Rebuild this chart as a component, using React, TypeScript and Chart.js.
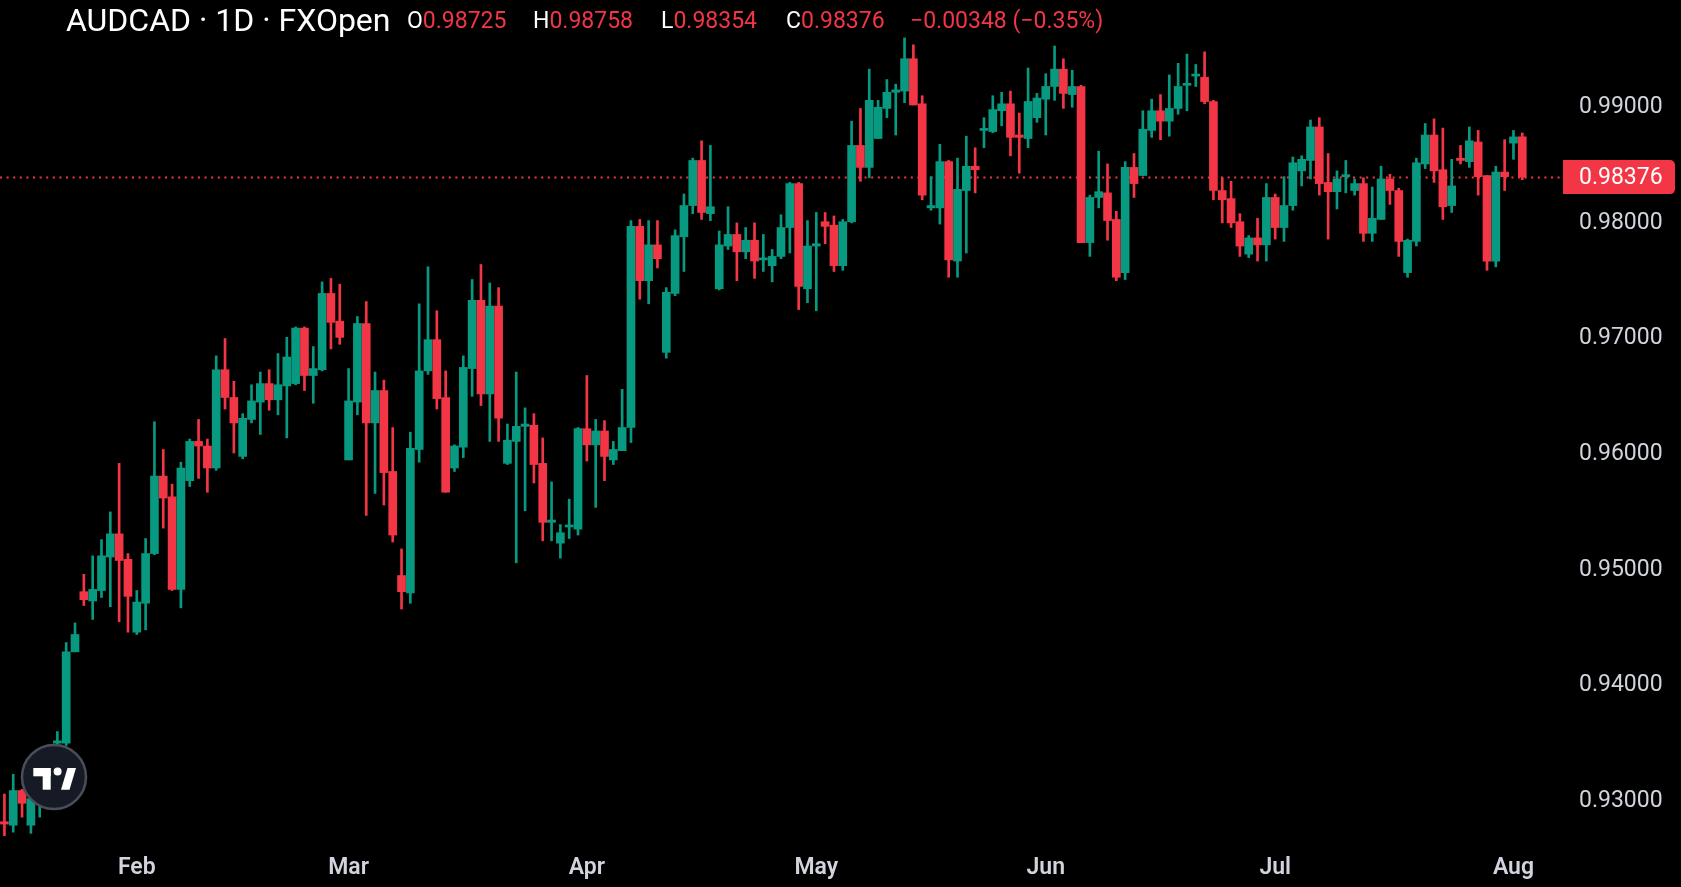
import React, { useEffect, useRef } from 'react';
import { Chart, registerables } from 'chart.js';

Chart.register(...registerables);

// ---- data ----
const opens = [
  0.9280, 0.9277, 0.9307, 0.9277, 0.9298, 0.9322, 0.9348, 0.9348, 0.9427, 0.9479,
  0.9471, 0.9480, 0.9509, 0.9529, 0.9507, 0.9444, 0.9469, 0.9512, 0.9579, 0.9561,
  0.9481, 0.9575, 0.9609, 0.9605, 0.9586, 0.9671, 0.9647, 0.9596, 0.9628, 0.9643,
  0.9659, 0.9645, 0.9657, 0.9659, 0.9707, 0.9666, 0.9671, 0.9737, 0.9713, 0.9593,
  0.9643, 0.9711, 0.9625, 0.9653, 0.9583, 0.9493, 0.9478, 0.9602, 0.9670, 0.9697,
  0.9647, 0.9586, 0.9604, 0.9672, 0.9731, 0.9650, 0.9726, 0.9590, 0.9609, 0.9622,
  0.9623, 0.9590, 0.9539, 0.9521, 0.9535, 0.9533, 0.9620, 0.9606, 0.9618, 0.9593,
  0.9601, 0.9621, 0.9795, 0.9748, 0.9779, 0.9686, 0.9737, 0.9786, 0.9813, 0.9852,
  0.9806, 0.9741, 0.9778, 0.9788, 0.9773, 0.9783, 0.9766, 0.9761, 0.9769, 0.9794,
  0.9832, 0.9741, 0.9778, 0.9799, 0.9796, 0.9761, 0.9799, 0.9865, 0.9846, 0.9871,
  0.9897, 0.9911, 0.9912, 0.9940, 0.9901, 0.9811, 0.9811, 0.9851, 0.9765, 0.9826,
  0.9847, 0.9878, 0.9877, 0.9895, 0.9901, 0.9874, 0.9871, 0.9889, 0.9905, 0.9916,
  0.9931, 0.9909, 0.9916, 0.9781, 0.9820, 0.9824, 0.9801, 0.9755, 0.9846, 0.9839,
  0.9878, 0.9895, 0.9886, 0.9897, 0.9917, 0.9925, 0.9924, 0.9903, 0.9826, 0.9819,
  0.9799, 0.9771, 0.9785, 0.9779, 0.9820, 0.9794, 0.9813, 0.9843, 0.9852, 0.9881,
  0.9833, 0.9825, 0.9838, 0.9826, 0.9832, 0.9789, 0.9801, 0.9836, 0.9826, 0.9755,
  0.9782, 0.9849, 0.9874, 0.9844, 0.9813, 0.9854, 0.9851, 0.9868, 0.9839, 0.9765,
  0.9842, 0.9867, 0.98725,
];
const highs = [
  0.9304, 0.9321, 0.9308, 0.9305, 0.9330, 0.9345, 0.9358, 0.9435, 0.9452, 0.9494,
  0.9510, 0.9524, 0.9548, 0.9590, 0.9512, 0.9480, 0.9525, 0.9626, 0.9602, 0.9572,
  0.9591, 0.9611, 0.9628, 0.9611, 0.9683, 0.9698, 0.9661, 0.9633, 0.9658, 0.9669,
  0.9671, 0.9685, 0.9699, 0.9708, 0.9708, 0.9691, 0.9747, 0.9750, 0.9745, 0.9672,
  0.9717, 0.9730, 0.9669, 0.9662, 0.9621, 0.9516, 0.9617, 0.9728, 0.9760, 0.9722,
  0.9670, 0.9606, 0.9683, 0.9749, 0.9762, 0.9746, 0.9742, 0.9624, 0.9669, 0.9638,
  0.9633, 0.9612, 0.9574, 0.9537, 0.9559, 0.9621, 0.9666, 0.9628, 0.9627, 0.9609,
  0.9654, 0.9800, 0.9801, 0.9800, 0.9800, 0.9742, 0.9792, 0.9823, 0.9854, 0.9869,
  0.9865, 0.9791, 0.9812, 0.9798, 0.9794, 0.9798, 0.9788, 0.9775, 0.9805, 0.9833,
  0.9833, 0.9800, 0.9807, 0.9807, 0.9804, 0.9801, 0.9886, 0.9897, 0.9931, 0.9904,
  0.9922, 0.9918, 0.9958, 0.9952, 0.9908, 0.9838, 0.9866, 0.9852, 0.9854, 0.9873,
  0.9863, 0.9889, 0.9908, 0.9911, 0.9912, 0.9893, 0.9932, 0.9910, 0.9927, 0.9951,
  0.9940, 0.9930, 0.9917, 0.9822, 0.9860, 0.9849, 0.9808, 0.9851, 0.9858, 0.9895,
  0.9905, 0.9909, 0.9926, 0.9936, 0.9944, 0.9935, 0.9946, 0.9904, 0.9837, 0.9834,
  0.9806, 0.9787, 0.9802, 0.9832, 0.9823, 0.9838, 0.9855, 0.9856, 0.9887, 0.9889,
  0.9858, 0.9843, 0.9852, 0.9836, 0.9837, 0.9829, 0.9847, 0.9840, 0.9828, 0.9784,
  0.9854, 0.9884, 0.9888, 0.9880, 0.9853, 0.9865, 0.9881, 0.9878, 0.9839, 0.9847,
  0.9870, 0.9878, 0.98758,
];
const lows = [
  0.9268, 0.9271, 0.9284, 0.9270, 0.9284, 0.9316, 0.9347, 0.9346, 0.9427, 0.9467,
  0.9455, 0.9474, 0.9466, 0.9453, 0.9444, 0.9442, 0.9446, 0.9511, 0.9534, 0.9480,
  0.9465, 0.9570, 0.9577, 0.9565, 0.9584, 0.9637, 0.9599, 0.9594, 0.9625, 0.9615,
  0.9636, 0.9632, 0.9612, 0.9658, 0.9653, 0.9642, 0.9670, 0.9689, 0.9693, 0.9593,
  0.9632, 0.9545, 0.9564, 0.9554, 0.9522, 0.9464, 0.9469, 0.9591, 0.9667, 0.9637,
  0.9565, 0.9583, 0.9595, 0.9648, 0.9640, 0.9609, 0.9609, 0.9589, 0.9504, 0.9549,
  0.9573, 0.9523, 0.9523, 0.9508, 0.9525, 0.9528, 0.9592, 0.9552, 0.9575, 0.9589,
  0.9601, 0.9608, 0.9732, 0.9728, 0.9759, 0.9681, 0.9735, 0.9756, 0.9806, 0.9801,
  0.9800, 0.9740, 0.9775, 0.9748, 0.9767, 0.9750, 0.9756, 0.9747, 0.9767, 0.9772,
  0.9723, 0.9729, 0.9722, 0.9780, 0.9756, 0.9757, 0.9798, 0.9834, 0.9837, 0.9871,
  0.9889, 0.9874, 0.9902, 0.9900, 0.9818, 0.9809, 0.9797, 0.9751, 0.9751, 0.9772,
  0.9824, 0.9863, 0.9876, 0.9882, 0.9856, 0.9841, 0.9863, 0.9885, 0.9874, 0.9904,
  0.9897, 0.9898, 0.9781, 0.9769, 0.9811, 0.9783, 0.9748, 0.9749, 0.9820, 0.9839,
  0.9872, 0.9870, 0.9873, 0.9892, 0.9895, 0.9916, 0.9901, 0.9818, 0.9798, 0.9794,
  0.9769, 0.9768, 0.9765, 0.9765, 0.9784, 0.9782, 0.9809, 0.9830, 0.9836, 0.9822,
  0.9784, 0.9810, 0.9824, 0.9822, 0.9782, 0.9782, 0.9801, 0.9814, 0.9769, 0.9751,
  0.9778, 0.9845, 0.9833, 0.9801, 0.9807, 0.9849, 0.9846, 0.9822, 0.9757, 0.9760,
  0.9826, 0.9853, 0.98354,
];
const closes = [
  0.9278, 0.9307, 0.9296, 0.9300, 0.9322, 0.9340, 0.9350, 0.9427, 0.9442, 0.9472,
  0.9481, 0.9510, 0.9529, 0.9506, 0.9475, 0.9470, 0.9512, 0.9579, 0.9560, 0.9481,
  0.9586, 0.9609, 0.9605, 0.9586, 0.9671, 0.9647, 0.9625, 0.9629, 0.9644, 0.9659,
  0.9645, 0.9658, 0.9682, 0.9707, 0.9666, 0.9672, 0.9737, 0.9712, 0.9699, 0.9644,
  0.9711, 0.9625, 0.9653, 0.9582, 0.9528, 0.9479, 0.9603, 0.9670, 0.9697, 0.9646,
  0.9565, 0.9605, 0.9673, 0.9731, 0.9650, 0.9726, 0.9629, 0.9610, 0.9622, 0.9624,
  0.9589, 0.9539, 0.9541, 0.9530, 0.9536, 0.9620, 0.9606, 0.9618, 0.9596, 0.9602,
  0.9621, 0.9795, 0.9748, 0.9779, 0.9767, 0.9738, 0.9787, 0.9813, 0.9852, 0.9807,
  0.9812, 0.9779, 0.9788, 0.9773, 0.9783, 0.9765, 0.9767, 0.9769, 0.9794, 0.9832,
  0.9743, 0.9778, 0.9780, 0.9795, 0.9761, 0.9799, 0.9865, 0.9846, 0.9904, 0.9898,
  0.9911, 0.9913, 0.9940, 0.9900, 0.9822, 0.9813, 0.9851, 0.9766, 0.9827, 0.9847,
  0.9844, 0.9879, 0.9896, 0.9901, 0.9872, 0.9872, 0.9903, 0.9906, 0.9916, 0.9931,
  0.9910, 0.9916, 0.9781, 0.9820, 0.9825, 0.9800, 0.9751, 0.9846, 0.9832, 0.9879,
  0.9895, 0.9886, 0.9897, 0.9916, 0.9918, 0.9926, 0.9903, 0.9826, 0.9818, 0.9798,
  0.9778, 0.9785, 0.9779, 0.9820, 0.9794, 0.9813, 0.9850, 0.9853, 0.9881, 0.9832,
  0.9825, 0.9836, 0.9839, 0.9832, 0.9789, 0.9802, 0.9836, 0.9826, 0.9782, 0.9783,
  0.9850, 0.9874, 0.9843, 0.9812, 0.9830, 0.9852, 0.9869, 0.9838, 0.9765, 0.9842,
  0.9838, 0.98724, 0.98376,
];

const monthLabels = ['Feb', 'Mar', 'Apr', 'May', 'Jun', 'Jul', 'Aug'];
const monthStartIdx = [15, 39, 66, 92, 118, 144, 171];
const priceTicks = [0.93, 0.94, 0.95, 0.96, 0.97, 0.98, 0.99];
const EMPTY_SLOTS_RIGHT = 4;
const Y_MIN = 0.92599;
const Y_MAX = 0.99908;

const SYMBOL = 'AUDCAD · 1D · FXOpen';

const UP = '#089981';
const DOWN = '#F23645';
const AXIS_TEXT = '#d1d4dc';
const FONT = 'Roboto, "Noto Sans", sans-serif';

const W = 1681;
const H = 887;

const fmt = (v: number) => v.toFixed(5);
const minus = (s: string) => s.replace('-', '\u2212');

export default function App() {
  const canvasRef = useRef<HTMLCanvasElement | null>(null);

  useEffect(() => {
    const canvas = canvasRef.current;
    if (!canvas) return;
    const n = opens.length;
    const labels = Array.from({ length: n + EMPTY_SLOTS_RIGHT }, (_, i) => String(i));
    const colors = opens.map((o, i) => (closes[i] >= o ? UP : DOWN));

    const overlay = {
      id: 'tvOverlay',
      beforeDatasetsDraw(chart: any) {
        const { ctx, chartArea, scales } = chart;
        const last = closes[closes.length - 1];
        const py = Math.round(scales.y.getPixelForValue(last)) + 0.5;
        ctx.save();
        ctx.strokeStyle = DOWN;
        ctx.lineWidth = 2;
        ctx.setLineDash([2, 4.6]);
        ctx.beginPath();
        ctx.moveTo(chartArea.left, py);
        ctx.lineTo(chartArea.right, py);
        ctx.stroke();
        ctx.restore();
      },
      afterDraw(chart: any) {
        const { ctx, chartArea, scales } = chart;
        const last = closes[closes.length - 1];
        const py = scales.y.getPixelForValue(last);
        // price label on the axis
        ctx.save();
        ctx.fillStyle = DOWN;
        const bx = chartArea.right + 1;
        const bw = 112;
        const bh = 34;
        ctx.beginPath();
        if ((ctx as any).roundRect) {
          (ctx as any).roundRect(bx, py - bh / 2, bw, bh, [0, 5, 5, 0]);
        } else {
          ctx.rect(bx, py - bh / 2, bw, bh);
        }
        ctx.fill();
        ctx.fillStyle = '#ffffff';
        ctx.font = `23px ${FONT}`;
        ctx.textAlign = 'left';
        ctx.textBaseline = 'middle';
        ctx.fillText(fmt(last), chartArea.right + 17, py + 1);
        ctx.restore();

        // TradingView badge
        const cx = 54;
        const cy = 777;
        ctx.save();
        ctx.beginPath();
        ctx.arc(cx, cy, 32, 0, Math.PI * 2);
        ctx.fillStyle = '#161a25';
        ctx.fill();
        ctx.lineWidth = 2.5;
        ctx.strokeStyle = '#4a4e59';
        ctx.stroke();
        ctx.fillStyle = '#ffffff';
        ctx.fillRect(cx - 20.7, cy - 9, 17.4, 8.3);
        ctx.fillRect(cx - 11.3, cy - 9, 8, 21.7);
        ctx.beginPath();
        ctx.arc(cx + 3.6, cy - 5.4, 4, 0, Math.PI * 2);
        ctx.fill();
        ctx.beginPath();
        ctx.moveTo(cx + 7, cy + 12.7);
        ctx.lineTo(cx + 15.5, cy + 12.7);
        ctx.lineTo(cx + 22, cy - 9);
        ctx.lineTo(cx + 13.5, cy - 9);
        ctx.closePath();
        ctx.fill();
        ctx.restore();
      },
    };

    const chart = new Chart(canvas, {
      type: 'bar',
      data: {
        labels,
        datasets: [
          {
            label: 'body',
            data: opens.map((o, i) => [o, closes[i]]) as any,
            backgroundColor: colors,
            borderWidth: 0,
            barThickness: 8,
            minBarLength: 2,
            grouped: false,
          } as any,
          {
            label: 'wick',
            data: lows.map((l, i) => [l, highs[i]]) as any,
            backgroundColor: colors,
            borderWidth: 0,
            barThickness: 2,
            grouped: false,
          } as any,
        ],
      },
      options: {
        animation: false,
        responsive: false,
        maintainAspectRatio: false,
        devicePixelRatio: 1,
        layout: { padding: 0 },
        events: [],
        plugins: {
          legend: { display: false },
          tooltip: { enabled: false },
          title: { display: false },
        },
        scales: {
          x: {
            type: 'category',
            offset: true,
            grid: { display: false, drawTicks: false },
            border: { display: false },
            ticks: {
              autoSkip: false,
              maxRotation: 0,
              minRotation: 0,
              padding: 9,
              color: AXIS_TEXT,
              font: { family: FONT, size: 23, weight: '600' as any },
              callback: (_v: any, i: number) => {
                const k = monthStartIdx.indexOf(i);
                return k >= 0 ? monthLabels[k] : '';
              },
            },
            afterFit: (s: any) => {
              s.height = 42;
              s.paddingLeft = 0;
              s.paddingRight = 0;
            },
          },
          y: {
            position: 'right',
            min: Y_MIN,
            max: Y_MAX,
            grid: { display: false, drawTicks: false },
            border: { display: false },
            afterBuildTicks: (s: any) => {
              s.ticks = priceTicks.map((v) => ({ value: v }));
            },
            ticks: {
              padding: 17,
              labelOffset: 2.5,
              color: AXIS_TEXT,
              font: { family: FONT, size: 23 },
              callback: (v: any) => fmt(Number(v)),
            },
            afterFit: (s: any) => {
              s.width = 119;
              s.paddingTop = 0;
              s.paddingBottom = 0;
            },
          },
        },
      } as any,
      plugins: [overlay as any],
    });

    return () => {
      chart.destroy();
    };
  }, []);

  const n = closes.length;
  const o = opens[n - 1];
  const h = highs[n - 1];
  const l = lows[n - 1];
  const c = closes[n - 1];
  const chg = c - closes[n - 2];
  const pct = (chg / closes[n - 2]) * 100;
  const valColor = c >= o ? UP : DOWN;
  const chgText = `${minus(chg.toFixed(5))} (${minus(pct.toFixed(2))}%)`;

  const ohlc = [
    { k: 'O', v: fmt(o), x: 407 },
    { k: 'H', v: fmt(h), x: 533 },
    { k: 'L', v: fmt(l), x: 661 },
    { k: 'C', v: fmt(c), x: 786 },
  ];

  const rowStyle: React.CSSProperties = {
    position: 'absolute',
    top: 0,
    height: 40,
    display: 'flex',
    alignItems: 'center',
    whiteSpace: 'nowrap',
    fontFamily: FONT,
  };

  return (
    <div
      style={{
        position: 'fixed',
        left: 0,
        top: 0,
        width: W,
        height: H,
        background: '#000000',
        overflow: 'hidden',
      }}
    >
      <canvas
        ref={canvasRef}
        width={W}
        height={H}
        style={{ position: 'absolute', left: 0, top: 0, width: W, height: H }}
      />
      <div style={{ ...rowStyle, left: 66, fontSize: 32, color: '#ffffff' }}>{SYMBOL}</div>
      {ohlc.map((it) => (
        <div key={it.k} style={{ ...rowStyle, left: it.x, fontSize: 23 }}>
          <span style={{ color: '#ffffff' }}>{it.k}</span>
          <span style={{ color: valColor }}>{it.v}</span>
        </div>
      ))}
      <div style={{ ...rowStyle, left: 910, fontSize: 23, color: valColor }}>{chgText}</div>
    </div>
  );
}
